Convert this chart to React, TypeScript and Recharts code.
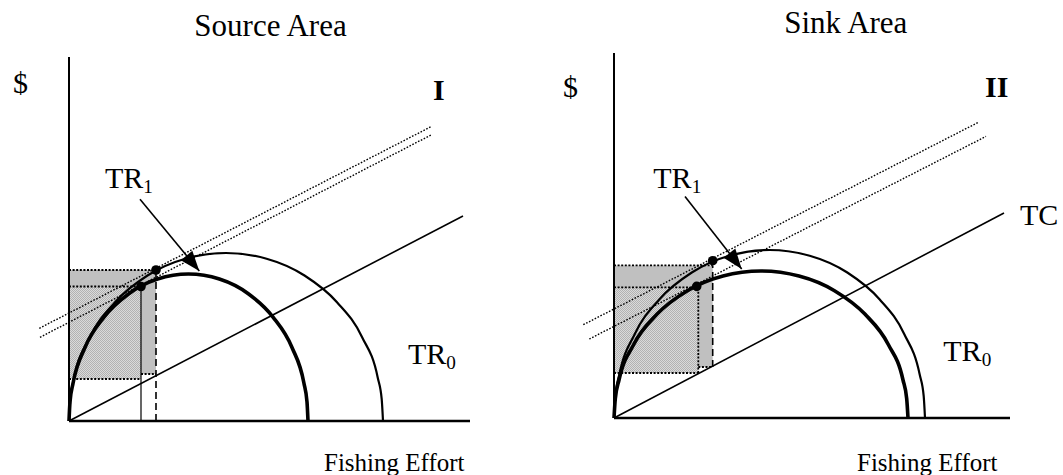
import React from "react";
import {
  ComposedChart,
  Line,
  XAxis,
  YAxis,
  ReferenceLine,
  ReferenceArea,
  ReferenceDot,
} from "recharts";

const SERIF = "'Liberation Serif', 'Times New Roman', Times, serif";

type Pt = { x: number; y: number };

/* ── Panel I: Source Area (effort on x, $ on y) ── */

const sourceInner: Pt[] = [
  { x: 0, y: 0 }, { x: 0.1, y: 1.92 }, { x: 0.41, y: 3.8 }, { x: 1.6, y: 7.35 },
  { x: 3.5, y: 10.39 }, { x: 5.98, y: 12.73 }, { x: 8.86, y: 14.2 }, { x: 11.95, y: 14.7 },
  { x: 15.04, y: 14.2 }, { x: 17.93, y: 12.73 }, { x: 20.4, y: 10.39 }, { x: 22.3, y: 7.35 },
  { x: 23.49, y: 3.8 }, { x: 23.8, y: 1.92 }, { x: 23.9, y: 0 },
];
const sourceOuter: Pt[] = [
  { x: 0, y: 0 }, { x: 0.13, y: 2.19 }, { x: 0.53, y: 4.35 }, { x: 2.1, y: 8.4 },
  { x: 4.6, y: 11.88 }, { x: 7.85, y: 14.55 }, { x: 11.64, y: 16.23 }, { x: 15.7, y: 16.8 },
  { x: 19.76, y: 16.23 }, { x: 23.55, y: 14.55 }, { x: 26.8, y: 11.88 }, { x: 29.3, y: 8.4 },
  { x: 30.87, y: 4.35 }, { x: 31.27, y: 2.19 }, { x: 31.4, y: 0 },
];
const sourceTC: Pt[] = [{ x: 0, y: 0 }, { x: 39.4, y: 20.5 }];
const sourceIsoHigh: Pt[] = [{ x: -2.97, y: 9.27 }, { x: 36.2, y: 29.43 }];
const sourceIsoLow: Pt[] = [{ x: -2.9, y: 8.37 }, { x: 36.2, y: 28.6 }];
const sourceArrow: Pt[] = [{ x: 7.1, y: 22.17 }, { x: 13.03, y: 15.0 }];
const sourceDots: Pt[] = [{ x: 8.7, y: 15.1 }, { x: 7.2, y: 13.45 }];
// profit boxes: [effort, low $, high $]
const sourceGrayBox = [8.7, 4.7, 15.1];
const sourceHatchBox = [7.2, 4.2, 13.45];

/* ── Panel II: Sink Area ── */

const sinkInner: Pt[] = [
  { x: 0, y: 0 }, { x: 0.13, y: 1.92 }, { x: 0.5, y: 3.8 }, { x: 1.97, y: 7.35 },
  { x: 4.31, y: 10.39 }, { x: 7.35, y: 12.73 }, { x: 10.9, y: 14.2 }, { x: 14.7, y: 14.7 },
  { x: 18.5, y: 14.2 }, { x: 22.05, y: 12.73 }, { x: 25.09, y: 10.39 }, { x: 27.43, y: 7.35 },
  { x: 28.9, y: 3.8 }, { x: 29.27, y: 1.92 }, { x: 29.4, y: 0 },
];
const sinkOuter: Pt[] = [
  { x: 0, y: 0 }, { x: 0.13, y: 2.19 }, { x: 0.53, y: 4.35 }, { x: 2.08, y: 8.4 },
  { x: 4.55, y: 11.88 }, { x: 7.78, y: 14.55 }, { x: 11.53, y: 16.23 }, { x: 15.55, y: 16.8 },
  { x: 19.57, y: 16.23 }, { x: 23.33, y: 14.55 }, { x: 26.55, y: 11.88 }, { x: 29.02, y: 8.4 },
  { x: 30.57, y: 4.35 }, { x: 30.97, y: 2.19 }, { x: 31.1, y: 0 },
];
const sinkTC: Pt[] = [{ x: 0, y: 0 }, { x: 39.0, y: 20.5 }];
const sinkIsoHigh: Pt[] = [{ x: -3.07, y: 9.33 }, { x: 36.5, y: 29.6 }];
const sinkIsoLow: Pt[] = [{ x: -2.47, y: 7.9 }, { x: 37.2, y: 28.16 }];
const sinkArrow: Pt[] = [{ x: 7.1, y: 22.16 }, { x: 12.77, y: 14.9 }];
const sinkDots: Pt[] = [{ x: 9.87, y: 15.73 }, { x: 8.27, y: 13.16 }];
const sinkGrayBox = [9.87, 5.1, 15.26];
const sinkHatchBox = [8.43, 4.5, 13.06];

const X_DOMAIN: [number, number] = [-7, 46];
const Y_DOMAIN: [number, number] = [-6, 42];

/* ── little drawing helpers ── */

function ArrowHead(props: any) {
  const { cx, cy, index, points } = props;
  if (index !== 1 || cx == null) return <g key={`ah-${index}`} />;
  const p0 = points && points[0];
  const ang = p0 ? Math.atan2(cy - p0.y, cx - p0.x) : Math.PI * 0.28;
  const L = 20;
  const W = 7.5;
  const bx = cx - L * Math.cos(ang);
  const by = cy - L * Math.sin(ang);
  const nx = -Math.sin(ang) * W;
  const ny = Math.cos(ang) * W;
  return (
    <polygon
      key="ah"
      points={`${cx},${cy} ${bx + nx},${by + ny} ${bx - nx},${by - ny}`}
      fill="#000"
    />
  );
}

function caption(text: string, opts: { sub?: string; size?: number; bold?: boolean; anchor?: string } = {}) {
  const size = opts.size ?? 30;
  return (p: any) => (
    <text
      x={p.cx}
      y={p.cy}
      fontFamily={SERIF}
      fontSize={size}
      fontWeight={opts.bold ? 700 : 400}
      textAnchor={(opts.anchor as any) ?? "start"}
      fill="#000"
    >
      {text}
      {opts.sub ? (
        <tspan fontSize={size * 0.64} dy={5}>
          {opts.sub}
        </tspan>
      ) : null}
    </text>
  );
}

function seg(key: string, x1: number, y1: number, x2: number, y2: number, style: any) {
  return (
    <ReferenceLine
      key={key}
      segment={[{ x: x1, y: y1 }, { x: x2, y: y2 }]}
      stroke="#000"
      {...style}
    />
  );
}

function label(key: string, x: number, y: number, fn: (p: any) => React.ReactElement) {
  return <ReferenceDot key={key} x={x} y={y} r={1} shape={fn} />;
}

const DOTTED = { strokeWidth: 1.8, strokeDasharray: "2 1.6" };
const ISO = { strokeWidth: 1.4, strokeDasharray: "1.6 1.6" };

interface PanelProps {
  id: string;
  left: number;
  top: number;
  inner: Pt[];
  outer: Pt[];
  tc: Pt[];
  isoHigh: Pt[];
  isoLow: Pt[];
  arrow: Pt[];
  dots: Pt[];
  grayBox: number[];
  hatchBox: number[];
  axisTop: number;
  axisRight: number;
  extras: React.ReactElement[];
}

function Panel(p: PanelProps) {
  const hatch = `hatch-${p.id}`;
  const [gx, gy1, gy2] = p.grayBox;
  const [hx, hy1, hy2] = p.hatchBox;
  return (
    <div style={{ position: "absolute", left: p.left, top: p.top }}>
      <ComposedChart width={530} height={480} margin={{ top: 0, right: 0, bottom: 0, left: 0 }}>
        <defs>
          <pattern id={hatch} width="2" height="2" patternUnits="userSpaceOnUse">
            <rect width="2" height="2" fill="#dadada" />
            <rect width="1" height="1" fill="#b2b2b2" />
            <rect x="1" y="1" width="1" height="1" fill="#b2b2b2" />
          </pattern>
        </defs>
        <XAxis hide type="number" dataKey="x" domain={X_DOMAIN} allowDataOverflow />
        <YAxis hide type="number" domain={Y_DOMAIN} allowDataOverflow />

        <ReferenceArea x1={0} x2={gx} y1={gy1} y2={gy2} fill="#c0c0c0" fillOpacity={1} stroke="none" />
        <ReferenceArea x1={0} x2={hx} y1={hy1} y2={hy2} fill={`url(#${hatch})`} fillOpacity={1} stroke="none" />
        {seg("gTop", 0, gy2, gx, gy2, DOTTED)}
        {seg("hTop", 0, hy2, hx, hy2, DOTTED)}
        {seg("hBot", 0, hy1, hx, hy1, DOTTED)}
        {seg("gBot", hx, gy1, gx, gy1, DOTTED)}

        {p.extras}

        {seg("yAxis", 0, 0, 0, p.axisTop, { strokeWidth: 2 })}
        {seg("xAxis", 0, 0, p.axisRight, 0, { strokeWidth: 2.5 })}

        <Line data={p.isoHigh} dataKey="y" stroke="#000" {...ISO} dot={false} activeDot={false} isAnimationActive={false} />
        <Line data={p.isoLow} dataKey="y" stroke="#000" {...ISO} dot={false} activeDot={false} isAnimationActive={false} />
        <Line data={p.tc} dataKey="y" stroke="#000" strokeWidth={1.6} dot={false} activeDot={false} isAnimationActive={false} />
        <Line data={p.outer} dataKey="y" type="monotone" stroke="#000" strokeWidth={2.2} dot={false} activeDot={false} isAnimationActive={false} />
        <Line data={p.inner} dataKey="y" type="monotone" stroke="#000" strokeWidth={3.6} dot={false} activeDot={false} isAnimationActive={false} />
        <Line data={p.arrow} dataKey="y" stroke="#000" strokeWidth={1.6} dot={ArrowHead} activeDot={false} isAnimationActive={false} />

        {p.dots.map((d, i) => (
          <ReferenceDot key={`dot${i}`} x={d.x} y={d.y} r={4.8} fill="#000" stroke="none" />
        ))}
      </ComposedChart>
    </div>
  );
}

export default function App() {
  const sourceExtras = [
    seg("solidV", sourceHatchBox[0], 0, sourceHatchBox[0], sourceHatchBox[2], { strokeWidth: 1.2 }),
    seg("dashV", sourceGrayBox[0], 0, sourceGrayBox[0], sourceGrayBox[2], { strokeWidth: 1.6, strokeDasharray: "7 4" }),
    label("title", 20.15, 38.55, caption("Source Area", { size: 31, anchor: "middle" })),
    label("dollar", -5.6, 32.8, caption("$")),
    label("roman", 36.4, 32.1, caption("I", { bold: true })),
    label("tr1", 3.6, 23.3, caption("TR", { sub: "1" })),
    label("tr0", 33.9, 5.7, caption("TR", { sub: "0" })),
    label("effort", 25.5, -5.0, caption("Fishing Effort", { size: 25 })),
  ];
  const sinkExtras = [
    seg("hatchV", sinkHatchBox[0], sinkHatchBox[1], sinkHatchBox[0], sinkHatchBox[2], DOTTED),
    seg("dashV", sinkGrayBox[0], sinkGrayBox[1], sinkGrayBox[0], sinkGrayBox[2], { strokeWidth: 1.6, strokeDasharray: "7 4" }),
    label("title", 23.18, 38.5, caption("Sink Area", { size: 31, anchor: "middle" })),
    label("dollar", -5.1, 32.13, caption("$")),
    label("roman", 37.1, 32.06, caption("II", { bold: true })),
    label("tr1", 3.93, 23.0, caption("TR", { sub: "1" })),
    label("tr0", 32.93, 5.66, caption("TR", { sub: "0" })),
    label("tc", 40.6, 19.33, caption("TC")),
    label("effort", 24.3, -5.27, caption("Fishing Effort", { size: 25 })),
  ];

  return (
    <div
      style={{
        position: "absolute",
        left: 0,
        top: 0,
        width: 1063,
        height: 475,
        overflow: "hidden",
        background: "#fff",
      }}
    >
      <Panel
        id="source"
        left={-1}
        top={1}
        inner={sourceInner}
        outer={sourceOuter}
        tc={sourceTC}
        isoHigh={sourceIsoHigh}
        isoLow={sourceIsoLow}
        arrow={sourceArrow}
        dots={sourceDots}
        grayBox={sourceGrayBox}
        hatchBox={sourceHatchBox}
        axisTop={36.4}
        axisRight={40.1}
        extras={sourceExtras}
      />
      <Panel
        id="sink"
        left={544}
        top={-1.7}
        inner={sinkInner}
        outer={sinkOuter}
        tc={sinkTC}
        isoHigh={sinkIsoHigh}
        isoLow={sinkIsoLow}
        arrow={sinkArrow}
        dots={sinkDots}
        grayBox={sinkGrayBox}
        hatchBox={sinkHatchBox}
        axisTop={36.5}
        axisRight={39.6}
        extras={sinkExtras}
      />
    </div>
  );
}
